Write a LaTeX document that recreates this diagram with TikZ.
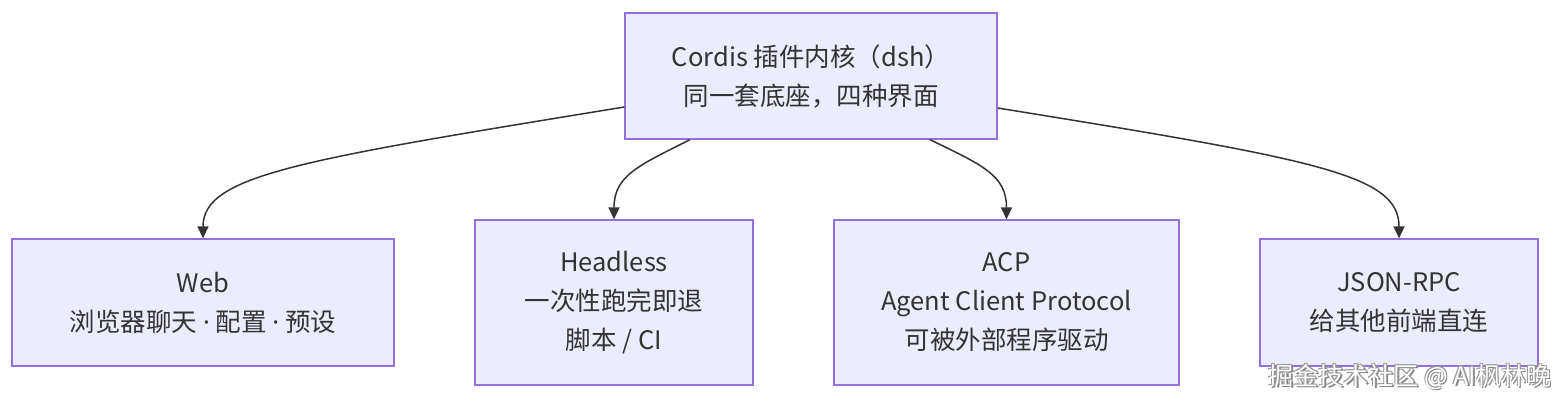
\documentclass[tikz,border=0pt]{standalone}
\usepackage{fontspec}
\setmainfont{Noto Sans CJK SC}
\usetikzlibrary{arrows.meta}
\definecolor{boxfill}{HTML}{ECECFF}
\definecolor{boxline}{HTML}{9370DB}
\definecolor{txt}{HTML}{333333}
\definecolor{edge}{HTML}{333333}
\tikzset{
  box/.style={draw=boxline, fill=boxfill, line width=1.3pt, rectangle, align=center,
    text=txt, font=\fontsize{25.5}{39}\selectfont, inner sep=0pt},
  conn/.style={draw=edge, line width=1.5pt, -{Triangle[length=12pt,width=11pt]}},
  wm/.style={font=\fontsize{25}{28}\selectfont}
}
\begin{document}
\begin{tikzpicture}[x=1pt,y=-1pt]
\useasboundingbox (0,0) rectangle (1568,404);
\node[box, minimum width=372pt, minimum height=126pt] (core) at (811,76) {Cordis 插件内核（dsh）\\同一套底座，四种界面};
\node[box, minimum width=382pt, minimum height=127pt] (web) at (203,302.5) {Web\\浏览器聊天 {\fontspec{Noto Sans}·} 配置 {\fontspec{Noto Sans}·} 预设};
\node[box, minimum width=278pt, minimum height=165pt] (headless) at (614,302.5) {Headless\\一次性跑完即退\\脚本 / CI};
\node[box, minimum width=345pt, minimum height=165pt] (acp) at (1006.5,302.5) {ACP\\Agent Client Protocol\\可被外部程序驱动};
\node[box, minimum width=278pt, minimum height=127pt] (rpc) at (1399,302.5) {JSON-RPC\\给其他前端直连};
\coordinate (cl) at ([yshift=-31pt]core.west);
\coordinate (cr) at ([yshift=-32pt]core.east);
\coordinate (cb1) at ([xshift=-121pt]core.south);
\coordinate (cb2) at ([xshift=119pt]core.south);
\draw[conn] (cl) .. controls (300,160) and (203,175) .. (web.north);
\draw[conn] (cb1) .. controls (640,165) and (614,175) .. (headless.north);
\draw[conn] (cb2) .. controls (982,165) and (1006.5,175) .. (acp.north);
\draw[conn] (cr) .. controls (1320,160) and (1399,175) .. (rpc.north);
\node[wm, text=black!50] (wms1) at (1411.5,378.5) {掘金技术社区 @ AI枫林晚};
\node[wm, text=black!40] (wms2) at (1409,376) {掘金技术社区 @ AI枫林晚};
\node[wm, text=black!40] (wms3) at (1411,376) {掘金技术社区 @ AI枫林晚};
\node[wm, text=white] (wm) at (1410,377) {掘金技术社区 @ AI枫林晚};
\end{tikzpicture}
\end{document}
